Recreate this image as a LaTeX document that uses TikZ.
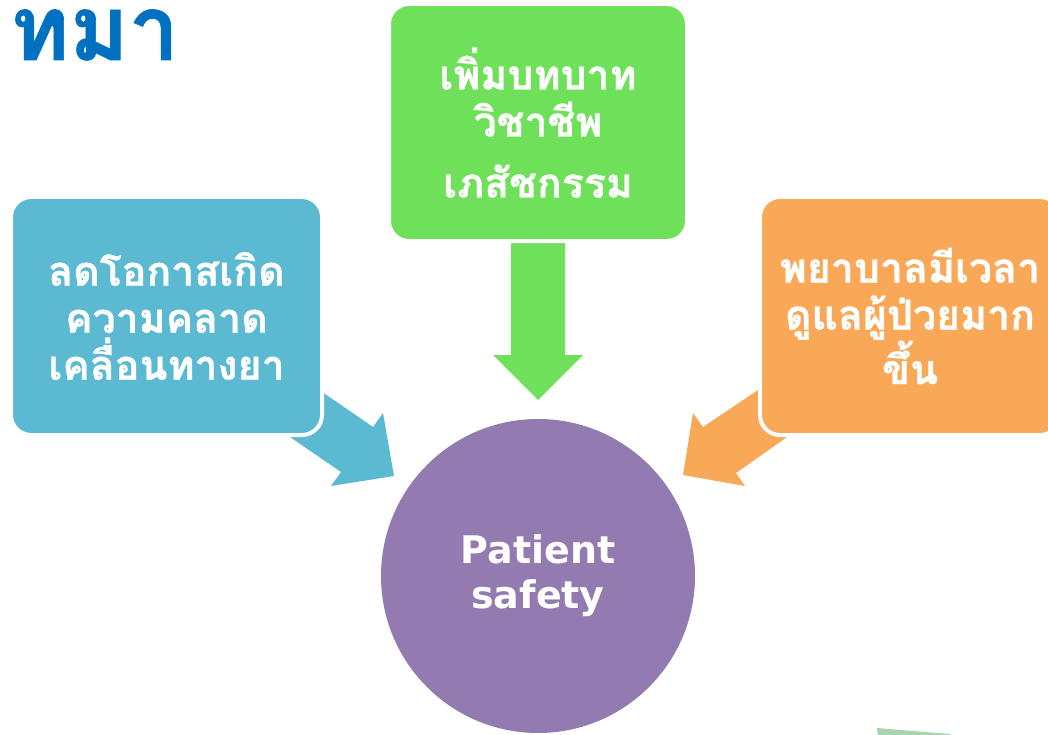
\documentclass[tikz,border=0pt]{standalone}
\usepackage{fontspec}
\newfontfamily\thaifont[Script=Thai, BoldFeatures={FakeBold=0.8}]{Loma}
\newfontfamily\latinfont{DejaVu Sans}
\definecolor{titleblue}{HTML}{0070C0}
\definecolor{boxblue}{HTML}{5BB9D2}
\definecolor{boxgreen}{HTML}{6EE05A}
\definecolor{boxorange}{HTML}{F9A858}
\definecolor{circpurple}{HTML}{937AB0}
\definecolor{sliver}{HTML}{A8D5AF}
\tikzset{
  ideabox/.style={rectangle, rounded corners=20pt, draw=white, line width=4pt,
    align=center, text=white, inner sep=0pt,
    font=\thaifont\bfseries\fontsize{41}{47}\selectfont},
  centre/.style={circle, inner sep=0pt, minimum size=314pt, fill=circpurple,
    align=center, text=white, font=\latinfont\bfseries\fontsize{38}{45}\selectfont}
}
\begin{document}
\begin{tikzpicture}[x=1pt,y=-1pt]
\clip (0,0) rectangle (1048,735);
\fill[white] (0,0) rectangle (1048,735);

% title
\node[anchor=base west, inner sep=0pt, text=titleblue,
  font=\thaifont\bfseries\fontsize{90}{94}\selectfont] (title) at (10,60) {ทมา};

% block arrows
\fill[boxgreen] (511,230) -- (565,230) -- (565,355) -- (583,355) -- (538,400)
  -- (493,355) -- (511,355) -- cycle;
\fill[boxblue] (270,356) -- (373,427) -- (383,413) -- (394,476) -- (331,486)
  -- (341,472) -- (239,402) -- cycle;
\fill[boxorange] (813,353) -- (703,427) -- (693,413) -- (683,475) -- (745,486)
  -- (736,473) -- (837,402) -- cycle;

% boxes
\node[ideabox, fill=boxgreen, minimum width=298pt, minimum height=237pt] (green) at (538,122.5)
  {เพิ่มบทบาท\\วิชาชีพ\\[14pt]เภสัชกรรม};
\node[ideabox, fill=boxblue, minimum width=311pt, minimum height=238pt] (blue) at (166.5,316)
  {ลดโอกาสเกิด\\ความคลาด\\เคลื่อนทางยา};
\node[ideabox, fill=boxorange, minimum width=300pt, minimum height=238pt] (orange) at (910,316)
  {พยาบาลมีเวลา\\ดูแลผู้ป่วยมาก\\ขึ้น};

% centre circle
\node[centre] (ps) at (538,576) {Patient\\safety};

% sliver at bottom right
\fill[sliver] (877,728) -- (950,734) -- (950,736) -- (878,736) -- cycle;
\end{tikzpicture}
\end{document}
